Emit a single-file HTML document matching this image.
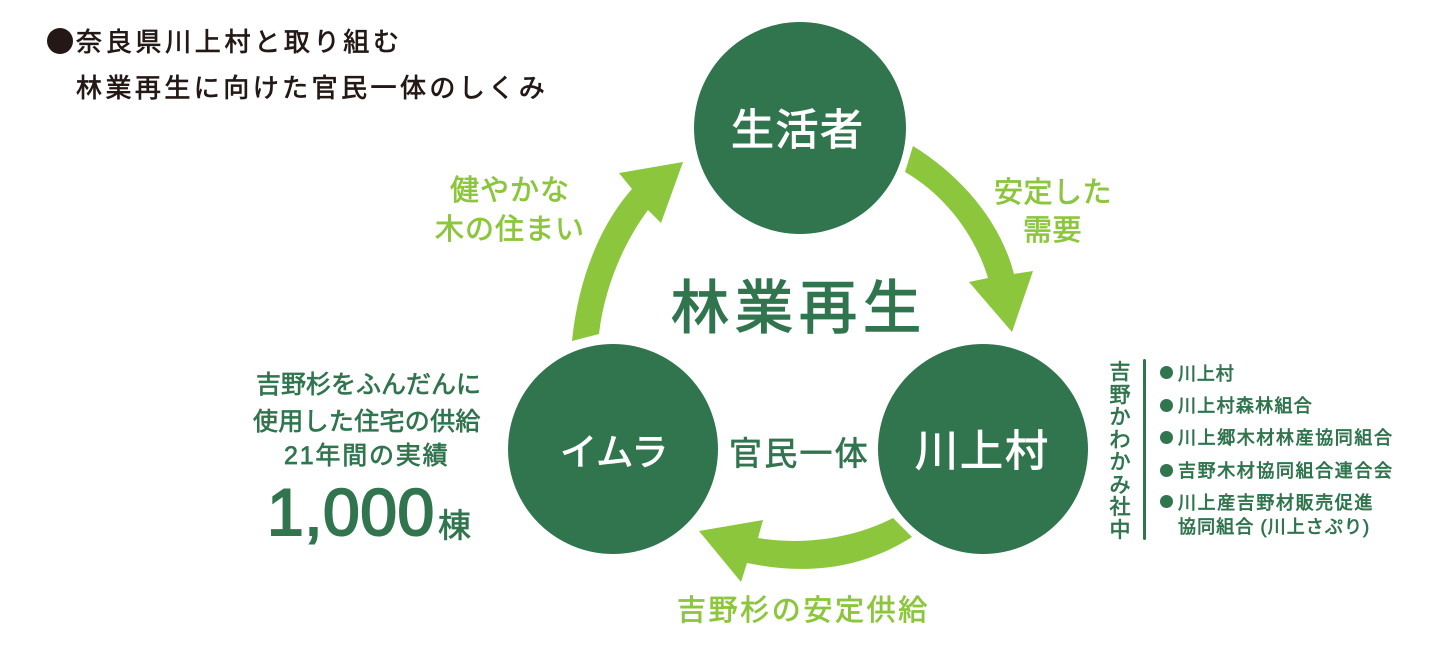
<!DOCTYPE html>
<html lang="ja"><head><meta charset="utf-8">
<style>
html,body{margin:0;padding:0;background:#fff}
#p{position:relative;width:1440px;height:645px;overflow:hidden;background:#fff;font-family:"Liberation Sans","Noto Sans CJK JP",sans-serif}
.t{position:absolute;white-space:nowrap;line-height:1;font-weight:400;-webkit-text-stroke:.7px currentColor}
.d{color:#31754f}.g{color:#8cc63c}.w{color:#fff}.k{color:#231815}
.b{position:absolute;border-radius:50%;background:#31754f;width:13px;height:13px}
</style></head><body><div id="p">
<svg width="1440" height="645" style="position:absolute;left:0;top:0">
<circle cx="800" cy="128" r="106" fill="#31754f"/>
<circle cx="613" cy="449" r="105" fill="#31754f"/>
<circle cx="983" cy="449" r="105" fill="#31754f"/>
<path fill="#8cc63c" d="M572 341C578 280 600 225 632 189L619 173L683 162L661 223L648 210C622 245 604 290 599 334Z"/>
<path fill="#8cc63c" d="M913 146C960 175 1000 220 1014 274L1033 271L1012 332L969 282L988 278C975 235 945 195 905 172Z"/>
<path fill="#8cc63c" d="M893 518C850 540 800 545 758 538L763 520L699 531L741 582L747 563C805 575 860 570 912 537Z"/>
<rect x="1143" y="359" width="3" height="181" rx="1.5" fill="#31754f"/>
<circle cx="60" cy="41" r="13" fill="#231815"/>
</svg>
<div class="t k" style="left:76px;top:29px;font-size:26px;letter-spacing:3.7px">奈良県川上村と取り組む</div>
<div class="t k" style="left:76px;top:75px;font-size:26px;letter-spacing:3.45px">林業再生に向けた官民一体のしくみ</div>
<div class="t w" style="left:731px;top:110px;font-size:43px;letter-spacing:1.5px;-webkit-text-stroke:1px #fff">生活者</div>
<div class="t w" style="left:560px;top:434px;font-size:37px;letter-spacing:0;-webkit-text-stroke:1px #fff">イムラ</div>
<div class="t w" style="left:915px;top:431px;font-size:43px;letter-spacing:2px;-webkit-text-stroke:1px #fff">川上村</div>
<div class="t d" style="left:671px;top:280px;font-size:58px;letter-spacing:6px;-webkit-text-stroke:1.5px #31754f">林業再生</div>
<div class="t d" style="left:729px;top:437px;font-size:33px;letter-spacing:2.2px">官民一体</div>
<div class="t g" style="left:450px;top:177px;font-size:29px;letter-spacing:1px">健やかな</div>
<div class="t g" style="left:435px;top:216px;font-size:29px;letter-spacing:1px">木の住まい</div>
<div class="t g" style="left:994px;top:179px;font-size:29px;letter-spacing:.5px">安定した</div>
<div class="t g" style="left:1023px;top:217px;font-size:29px;letter-spacing:.5px">需要</div>
<div class="t g" style="left:677px;top:597px;font-size:29px;letter-spacing:2.6px">吉野杉の安定供給</div>
<div class="t d" style="left:256px;top:373px;font-size:25px;letter-spacing:0">吉野杉をふんだんに</div>
<div class="t d" style="left:253px;top:410px;font-size:25px;letter-spacing:.3px">使用した住宅の供給</div>
<div class="t d" style="left:284px;top:444px;font-size:25px;letter-spacing:1.8px">21年間の実績</div>
<div class="t d" style="left:267px;top:479px;font-size:66px;letter-spacing:.5px;font-family:'Liberation Sans',sans-serif;-webkit-text-stroke:2px currentColor">1,000</div>
<div class="t d" style="left:438px;top:509px;font-size:33px">棟</div>
<div class="t d" style="left:1108px;top:362px;font-size:21px;line-height:22.5px;width:24px;text-align:center;white-space:normal">吉<br>野<br>か<br>わ<br>か<br>み<br>社<br>中</div>
<div class="b" style="left:1160px;top:366px"></div>
<div class="b" style="left:1160px;top:399px"></div>
<div class="b" style="left:1160px;top:431px"></div>
<div class="b" style="left:1160px;top:464px"></div>
<div class="b" style="left:1160px;top:495px"></div>
<div class="t d" style="left:1178px;top:365px;font-size:18px;letter-spacing:.9px">川上村</div>
<div class="t d" style="left:1178px;top:397px;font-size:18px;letter-spacing:1.3px">川上村森林組合</div>
<div class="t d" style="left:1178px;top:429px;font-size:18px;letter-spacing:1.6px">川上郷木材林産協同組合</div>
<div class="t d" style="left:1178px;top:462px;font-size:18px;letter-spacing:1.6px">吉野木材協同組合連合会</div>
<div class="t d" style="left:1178px;top:494px;font-size:18px;letter-spacing:1.6px">川上産吉野材販売促進</div>
<div class="t d" style="left:1178px;top:518px;font-size:18px;letter-spacing:1.1px">協同組合 (川上さぷり)</div>
</div></body></html>
